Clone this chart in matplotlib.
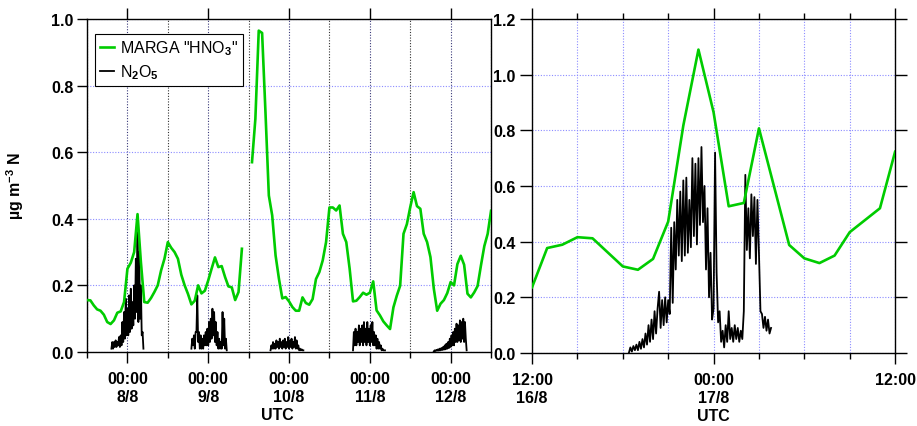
import numpy as np
import pandas as pd
import matplotlib
matplotlib.use('Agg')
import matplotlib.pyplot as plt
import matplotlib.dates as mdates
from matplotlib.ticker import FormatStrFormatter, MultipleLocator

plt.rcParams['font.family'] = ['Liberation Sans', 'DejaVu Sans']
plt.rcParams['font.weight'] = 'bold'
plt.rcParams['mathtext.fontset'] = 'custom'
plt.rcParams['mathtext.rm'] = 'Liberation Sans'
plt.rcParams['mathtext.bf'] = 'Liberation Sans:bold'

# ---------------- data ----------------
# left panel: hours since 7/8 12:00 UTC
left_start = pd.Timestamp('2015-08-07 12:00')
left_end = pd.Timestamp('2015-08-12 12:00')

# MARGA HNO3, hourly, two runs separated by a data gap
hno3_a_first_hour = 0
hno3_a = [0.156, 0.155, 0.14, 0.128, 0.124, 0.112, 0.09, 0.084, 0.095, 0.118,
          0.122, 0.15, 0.25, 0.268, 0.30, 0.414, 0.27, 0.15, 0.148, 0.162,
          0.18, 0.20, 0.245, 0.28, 0.33, 0.313, 0.30, 0.28, 0.232, 0.20,
          0.174, 0.143, 0.154, 0.20, 0.176, 0.184, 0.215, 0.25, 0.284, 0.255,
          0.258, 0.225, 0.197, 0.194, 0.156, 0.18, 0.31]
hno3_b_first_hour = 49
hno3_b = [0.57, 0.70, 0.965, 0.958, 0.72, 0.47, 0.41, 0.29, 0.22, 0.161,
          0.165, 0.152, 0.135, 0.124, 0.124, 0.164, 0.147, 0.142, 0.159, 0.219,
          0.24, 0.275, 0.33, 0.434, 0.434, 0.425, 0.44, 0.355, 0.33, 0.25,
          0.152, 0.154, 0.165, 0.178, 0.172, 0.178, 0.212, 0.125, 0.11, 0.092,
          0.08, 0.069, 0.134, 0.169, 0.199, 0.355, 0.384, 0.435, 0.48, 0.438,
          0.43, 0.355, 0.33, 0.285, 0.19, 0.124, 0.145, 0.156, 0.177, 0.21,
          0.20, 0.264, 0.289, 0.262, 0.175, 0.164, 0.179, 0.198, 0.26, 0.318,
          0.355, 0.424]

# N2O5, one run per night, 15 min samples
n2o5_step_left = 0.25
n2o5_night_starts = [7.25, 31.0, 54.5, 79.0, 103.0]
n2o5_night1 = [0.01, 0.03, 0.01, 0.03, 0.015, 0.035, 0.015, 0.03, 0.02, 0.045,
               0.015, 0.05, 0.02, 0.09, 0.03, 0.12, 0.04, 0.16, 0.05, 0.13,
               0.05, 0.17, 0.06, 0.19, 0.07, 0.15, 0.08, 0.20, 0.10, 0.28,
               0.12, 0.36, 0.09, 0.30, 0.10, 0.20, 0.05, 0.06, 0.01]
n2o5_night2 = [0.01, 0.04, 0.02, 0.05, 0.01, 0.06, 0.06, 0.17, 0.03, 0.06,
               0.01, 0.05, 0.01, 0.04, 0.01, 0.05, 0.02, 0.06, 0.02, 0.07,
               0.02, 0.09, 0.03, 0.10, 0.04, 0.13, 0.05, 0.12, 0.03, 0.09,
               0.02, 0.06, 0.01, 0.04, 0.01, 0.03, 0.01, 0.12, 0.02, 0.10,
               0.01, 0.04, 0.005]
n2o5_night3 = [0.005, 0.02, 0.01, 0.03, 0.01, 0.025, 0.01, 0.035, 0.015, 0.03,
               0.01, 0.04, 0.015, 0.03, 0.01, 0.035, 0.015, 0.04, 0.01, 0.03,
               0.015, 0.045, 0.01, 0.035, 0.015, 0.04, 0.01, 0.03, 0.015, 0.045,
               0.01, 0.035, 0.01, 0.02, 0.005, 0.01, 0.005, 0.008, 0.005, 0.005]
n2o5_night4 = [0.005, 0.06, 0.02, 0.07, 0.02, 0.06, 0.03, 0.08, 0.02, 0.07,
               0.03, 0.08, 0.02, 0.09, 0.03, 0.07, 0.02, 0.09, 0.03, 0.07,
               0.02, 0.08, 0.03, 0.09, 0.02, 0.06, 0.02, 0.05, 0.01, 0.04,
               0.01, 0.03, 0.01, 0.02, 0.005, 0.01, 0.005, 0.005, 0.005]
n2o5_night5 = [0.002, 0.005, 0.003, 0.006, 0.004, 0.008, 0.004, 0.01, 0.005, 0.012,
               0.006, 0.015, 0.007, 0.02, 0.008, 0.025, 0.01, 0.03, 0.012, 0.04,
               0.015, 0.05, 0.02, 0.06, 0.02, 0.07, 0.03, 0.085, 0.03, 0.08,
               0.035, 0.095, 0.03, 0.09, 0.04, 0.10, 0.03, 0.09, 0.04, 0.005]
n2o5_nights = [n2o5_night1, n2o5_night2, n2o5_night3, n2o5_night4, n2o5_night5]

left_tick_times = ['2015-08-08 00:00', '2015-08-09 00:00', '2015-08-10 00:00',
                   '2015-08-11 00:00', '2015-08-12 00:00']
left_tick_labels = ['00:00\n8/8', '00:00\n9/8', '00:00\n10/8', '00:00\n11/8', '00:00\n12/8']

# right panel: hours since 16/8 12:00 UTC
right_start = pd.Timestamp('2015-08-16 12:00')
right_end = pd.Timestamp('2015-08-17 12:00')
hno3_r_hours = [0, 1, 2, 3, 4, 6, 7, 8, 9, 10, 11, 12, 13, 14, 15, 17, 18, 19, 20, 21, 23, 24]
hno3_r = [0.236, 0.377, 0.389, 0.416, 0.412, 0.311, 0.299, 0.338, 0.472, 0.817, 1.09,
          0.865, 0.527, 0.539, 0.807, 0.388, 0.340, 0.323, 0.350, 0.434, 0.520, 0.723]

n2o5_r_start = 6.4
n2o5_r_step = 0.1
n2o5_r = [0.0, 0.02, 0.005, 0.025, 0.01, 0.03, 0.01, 0.04, 0.015, 0.05,
          0.02, 0.07, 0.03, 0.10, 0.04, 0.12, 0.05, 0.15, 0.07, 0.16,
          0.22, 0.09, 0.19, 0.10, 0.20, 0.11, 0.19, 0.14, 0.45, 0.18,
          0.47, 0.30, 0.55, 0.35, 0.58, 0.33, 0.62, 0.35, 0.63, 0.36,
          0.55, 0.38, 0.70, 0.42, 0.68, 0.39, 0.70, 0.46, 0.74, 0.47,
          0.60, 0.30, 0.52, 0.20, 0.36, 0.12, 0.16, 0.72, 0.29, 0.11,
          0.15, 0.04, 0.08, 0.02, 0.10, 0.04, 0.15, 0.05, 0.09, 0.04,
          0.10, 0.05, 0.09, 0.04, 0.08, 0.05, 0.15, 0.64, 0.37, 0.52,
          0.34, 0.57, 0.42, 0.56, 0.32, 0.55, 0.36, 0.15, 0.14, 0.09,
          0.13, 0.08, 0.12, 0.07, 0.09]

right_tick_times = ['2015-08-16 12:00', '2015-08-17 00:00', '2015-08-17 12:00']
right_tick_labels = ['12:00\n16/8', '00:00\n17/8', '12:00']

GREEN = '#00cc00'
GRID_BLUE = '#8c8cff'
DOTS = (0, (1, 1.5))


def to_time(start, hours):
    return start + pd.to_timedelta(np.asarray(hours, dtype=float), unit='h')


def style_axis(ax, ymax, tick_times, tick_labels):
    ax.set_ylim(0, ymax)
    ax.yaxis.set_major_locator(MultipleLocator(0.2))
    ax.yaxis.set_major_formatter(FormatStrFormatter('%.1f'))
    ax.set_xticks(pd.to_datetime(tick_times), tick_labels)
    ax.tick_params(axis='x', which='major', direction='out', length=8, width=1,
                   top=True, labelsize=11.5, pad=6)
    ax.tick_params(axis='x', which='minor', direction='out', length=4.5, width=1)
    ax.tick_params(axis='y', direction='out', length=7.5, width=1, labelsize=11.5, pad=2)
    ax.set_axisbelow(True)
    for s in ax.spines.values():
        s.set_linewidth(1.0)


fig = plt.figure(figsize=(9.17, 4.27), dpi=100)
ax1 = fig.add_axes([0.0949, 0.1733, 0.4406, 0.7799])
ax2 = fig.add_axes([0.5802, 0.1710, 0.3959, 0.7822])

# ---- left panel ----
ax1.plot(to_time(left_start, np.arange(len(hno3_a)) + hno3_a_first_hour), hno3_a,
         color=GREEN, lw=1.9, zorder=3, label='MARGA "HNO$_3$"')
ax1.plot(to_time(left_start, np.arange(len(hno3_b)) + hno3_b_first_hour), hno3_b,
         color=GREEN, lw=1.9, zorder=3)
for i, (start, night) in enumerate(zip(n2o5_night_starts, n2o5_nights)):
    hrs = start + n2o5_step_left * np.arange(len(night))
    ax1.plot(to_time(left_start, hrs), night, color='black', lw=1.3, zorder=2,
             label='N$_2$O$_5$' if i == 0 else None)

ax1.set_xlim(left_start, left_end)
ax1.xaxis.set_minor_locator(mdates.HourLocator(byhour=[12]))
style_axis(ax1, 1.0, left_tick_times, left_tick_labels)
ax1.tick_params(axis='x', which='minor', top=False)
ax1.yaxis.grid(True, color=GRID_BLUE, linestyle=DOTS, lw=0.8)
ax1.xaxis.grid(True, which='major', color='#3a3a7a', linestyle=DOTS, lw=0.8)
ax1.xaxis.grid(True, which='minor', color='#333333', linestyle=DOTS, lw=0.8)
ax1.set_xlabel('UTC', fontsize=11.5, fontweight='bold')
ax1.xaxis.set_label_coords((277 - 87) / 404, -0.165)

leg = ax1.legend(loc='upper left', bbox_to_anchor=(0.02, 0.955), borderaxespad=0,
                 prop={'weight': 'normal', 'size': 11.5}, handlelength=0.9,
                 handletextpad=0.35, borderpad=0.3, labelspacing=0.3,
                 fancybox=False, framealpha=1, edgecolor='black')
leg.get_frame().set_linewidth(0.8)

# ---- right panel ----
ax2.plot(to_time(right_start, hno3_r_hours), hno3_r, color=GREEN, lw=1.9, zorder=3)
hrs_r = n2o5_r_start + n2o5_r_step * np.arange(len(n2o5_r))
ax2.plot(to_time(right_start, hrs_r), n2o5_r, color='black', lw=1.3, zorder=2)

ax2.set_xlim(right_start, right_end)
ax2.xaxis.set_minor_locator(mdates.HourLocator(byhour=range(0, 24, 3)))
style_axis(ax2, 1.2, right_tick_times, right_tick_labels)
ax2.tick_params(axis='x', which='minor', top=True)
ax2.tick_params(axis='y', right=True, length=8.5, pad=3.5)
ax2.yaxis.grid(True, color=GRID_BLUE, linestyle=DOTS, lw=0.8)
ax2.xaxis.grid(True, which='both', color=GRID_BLUE, linestyle=DOTS, lw=0.8)
ax2.set_xlabel('UTC', fontsize=11.5, fontweight='bold')
ax2.xaxis.set_label_coords(0.5, -0.165)

fig.text(15 / 917, 1 - 186 / 427, r'µg m$^{\mathbf{-3}}$ N', rotation=90,
         ha='center', va='center', fontsize=11.5, fontweight='bold')

fig.savefig('out.png', dpi=100)
